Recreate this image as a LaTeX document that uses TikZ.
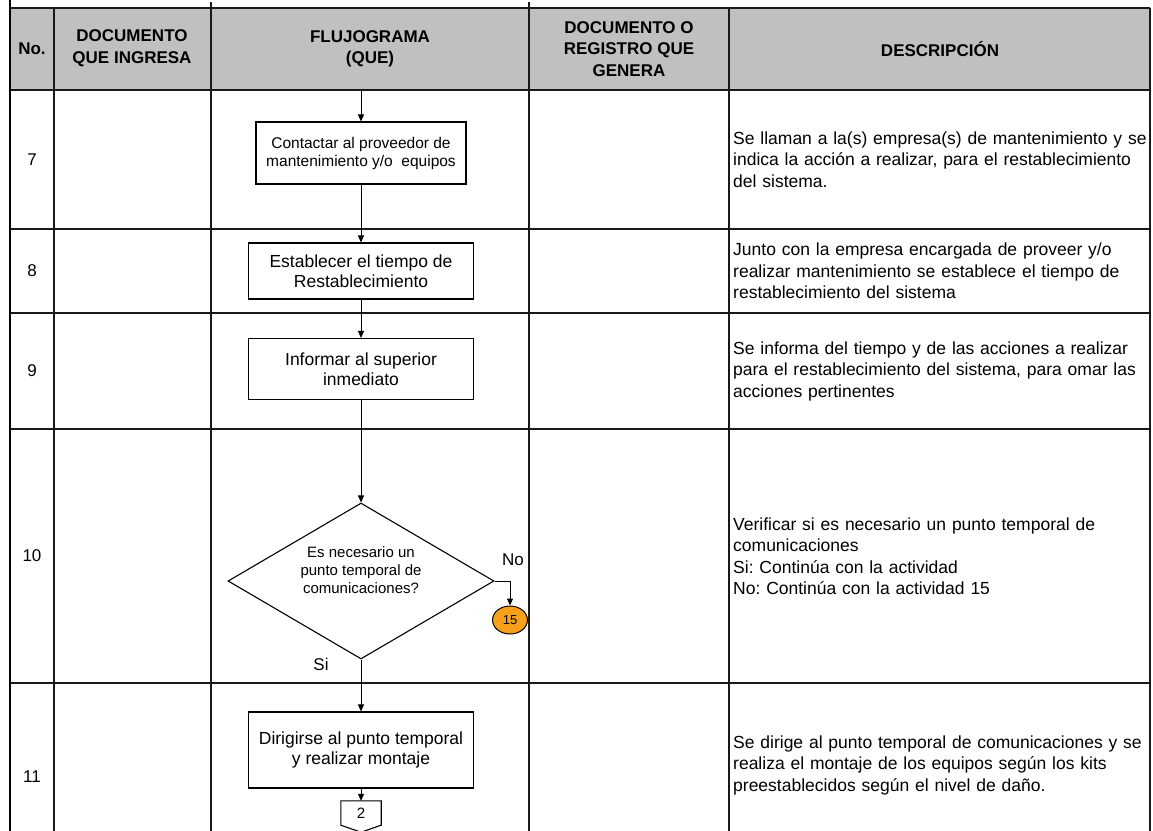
\documentclass[tikz,border=0pt]{standalone}
\usepackage{fontspec}
\setmainfont{Liberation Sans}
\usetikzlibrary{arrows.meta,shapes.geometric,positioning}
\definecolor{grisencab}{HTML}{C0C0C0}
\definecolor{naranja}{HTML}{F7A01C}
\newcommand{\lineajust}[1]{\makebox[415pt][s]{#1}}
\frenchspacing

\begin{document}
\begin{tikzpicture}[x=1pt,y=-1pt,
  borde/.style={line width=1.3pt,black!90},
  encab/.style={font=\fontsize{17}{21.5}\selectfont\bfseries,align=center,inner sep=0pt},
  numero/.style={font=\fontsize{17}{20}\selectfont,inner sep=0pt},
  descr/.style={font=\fontsize{17.5}{21.5}\selectfont,anchor=west,align=left,text width=415pt,inner sep=0pt},
  proceso/.style={draw,line width=1.1pt,minimum width=225pt,align=center,inner sep=0pt,font=\fontsize{17.5}{20}\selectfont},
  flecha/.style={line width=1pt,-{Triangle[length=7pt,width=6pt]}}]
  \useasboundingbox (0,0) rectangle (1153,830);
  \clip (0,0) rectangle (1153,830);

  % cabecera y rejilla
  \fill[grisencab] (10,8) rectangle (1150,90);
  \foreach \yy in {8,90,229,313,429,683}
    \draw[borde] (10,\yy) -- (1150,\yy);
  \foreach \xx in {54,729,1150}
    \draw[borde] (\xx,8) -- (\xx,832);
  \foreach \xx in {211,529}
    \draw[borde] (\xx,2) -- (\xx,832);
  \draw[line width=2.6pt] (10,0) -- (10,832);

  \node[encab] (hno) at (32,49) {No.};
  \node[encab] (hdocin) at (132,48) {DOCUMENTO\\QUE INGRESA};
  \node[encab] (hflujo) at (370,49) {FLUJOGRAMA\\(QUE)};
  \node[encab] (hdocgen) at (629,49) {DOCUMENTO O\\REGISTRO QUE\\GENERA};
  \node[encab] (hdesc) at (940,49) {DESCRIPCIÓN};

  \foreach \n/\yy in {7/160,8/271,9/371,10/556,11/777}
    \node[numero] (num\n) at (32,\yy) {\n};

  % flujograma
  \coordinate (entrada) at (361,90);
  \node[proceso,minimum width=210pt,minimum height=62pt,font=\fontsize{15.5}{18}\selectfont] (contactar) at (361,153)
    {Contactar al proveedor de\\mantenimiento y/o\ \ equipos};
  \node[proceso,minimum height=56pt] (establecer) at (361,271) {Establecer el tiempo de\\Restablecimiento};
  \node[proceso,minimum height=61pt] (informar) at (361,369) {Informar al superior\\inmediato};
  \node[draw,diamond,line width=1.1pt,minimum width=266pt,minimum height=156pt,inner sep=0pt] (pregunta) at (361,581) {};
  \node[align=center,inner sep=0pt,font=\fontsize{15}{18}\selectfont] (preguntatxt) at (361,570)
    {Es necesario un\\punto temporal de\\comunicaciones?};
  \node[draw,ellipse,fill=naranja,line width=1pt,minimum width=35pt,minimum height=28pt,inner sep=0pt,
    font=\fontsize{13}{13}\selectfont] (fin15) at (510,620) {15};
  \node[inner sep=0pt,font=\fontsize{17}{17}\selectfont] (etiqno) at (513,560) {No};
  \node[inner sep=0pt,font=\fontsize{17}{17}\selectfont] (etiqsi) at (321,664) {Si};
  \node[proceso,minimum height=76pt] (dirigirse) at (361,750) {Dirigirse al punto temporal\\y realizar montaje};
  \node[minimum width=40pt,minimum height=24pt,inner sep=0pt,font=\fontsize{15}{15}\selectfont] (conector2) at (361,813) {2};
  \draw[line width=1.1pt] (conector2.north west) -- (conector2.north east) -- (conector2.south east)
    -- ([yshift=-7pt]conector2.south) -- (conector2.south west) -- cycle;

  \draw[flecha] (entrada) -- (contactar);
  \draw[flecha] (contactar) -- (establecer);
  \draw[flecha] (establecer) -- (informar);
  \draw[flecha] (informar) -- (pregunta);
  \draw[flecha] (pregunta.east) -| (fin15.north);
  \draw[flecha] (pregunta) -- (dirigirse);
  \draw[flecha] (dirigirse) -- (conector2);

  % descripciones
  \node[descr] (desc7) at (733,159.5) {\lineajust{Se llaman a la(s) empresa(s) de mantenimiento y se}\\
    \lineajust{indica la acción a realizar, para el restablecimiento}\\del sistema.};
  \node[descr] (desc8) at (733,271) {\lineajust{Junto con la empresa encargada de proveer y/o}\\
    \lineajust{realizar mantenimiento se establece el tiempo de}\\restablecimiento del sistema};
  \node[descr] (desc9) at (733,371) {\lineajust{Se informa del tiempo y de las acciones a realizar}\\
    \lineajust{para el restablecimiento del sistema, para omar las}\\acciones pertinentes};
  \node[descr] (desc10) at (733,556) {\lineajust{Verificar si es necesario un punto temporal de}\\
    comunicaciones\\Si: Continúa con la actividad\\No: Continúa con la actividad 15};
  \node[descr] (desc11) at (733,765) {\lineajust{Se dirige al punto temporal de comunicaciones y se}\\
    \lineajust{realiza el montaje de los equipos según los kits}\\preestablecidos según el nivel de daño.};
\end{tikzpicture}
\end{document}
